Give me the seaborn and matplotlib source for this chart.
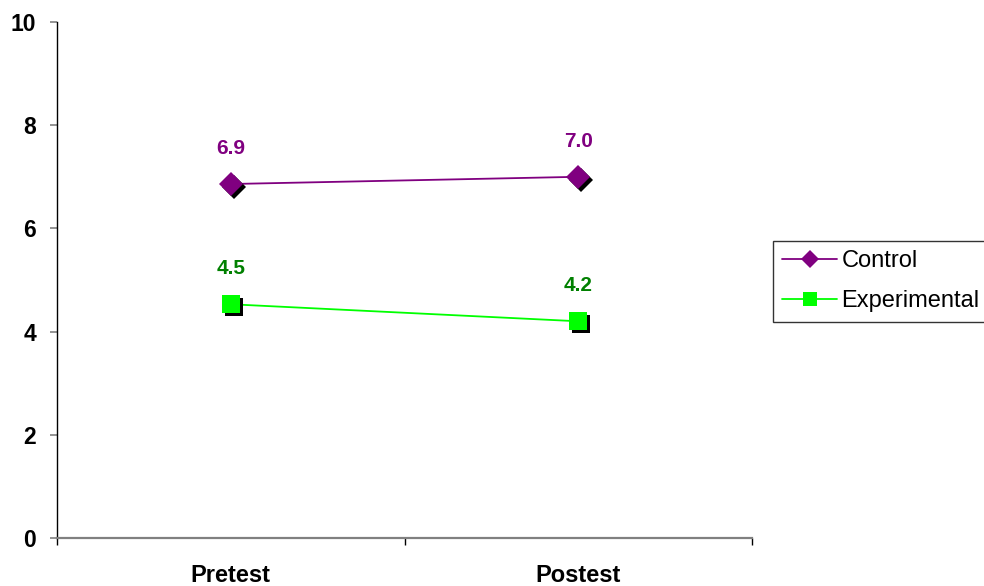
import matplotlib
matplotlib.use("Agg")
import matplotlib.pyplot as plt
import matplotlib.transforms as mtransforms
from matplotlib.lines import Line2D
import seaborn as sns
import pandas as pd

# Mean scores by test phase
phases = ["Pretest", "Postest"]
control = [6.86, 7.0]
experimental = [4.53, 4.2]
series_names = ["Control", "Experimental"]
y_ticks = [0, 2, 4, 6, 8, 10]

line_colors = {"Control": "#800080", "Experimental": "#00FF00"}
label_colors = {"Control": "#800080", "Experimental": "#008000"}
markers = {"Control": "D", "Experimental": "s"}
marker_sizes = {"Control": 12.5, "Experimental": 13.5}

df = pd.DataFrame({
    "phase": phases * 2,
    "x": [0, 1] * 2,
    "score": control + experimental,
    "group": [series_names[0]] * 2 + [series_names[1]] * 2,
})

sns.set_style("white")
plt.rcParams["font.family"] = ["Liberation Sans", "DejaVu Sans"]
plt.rcParams["text.color"] = "black"

fig = plt.figure(figsize=(9.84, 5.86), dpi=100)
ax = fig.add_axes([57 / 984, 1 - 538 / 586, (752 - 57) / 984, (538 - 22) / 586])

# connecting lines
sns.lineplot(data=df, x="x", y="score", hue="group", palette=line_colors,
             linewidth=1.3, legend=False, ax=ax, zorder=2)

# markers with a dark drop shadow
shadow = mtransforms.offset_copy(ax.transData, fig=fig, x=3, y=-3, units="dots")
for name in series_names:
    sub = df[df["group"] == name]
    ax.plot(sub["x"], sub["score"], linestyle="none", marker=markers[name],
            markersize=marker_sizes[name], color="black", markeredgewidth=0,
            transform=shadow, zorder=3)
    ax.plot(sub["x"], sub["score"], linestyle="none", marker=markers[name],
            markersize=marker_sizes[name], color=line_colors[name],
            markeredgewidth=0, zorder=4)
    for xv, yv in zip(sub["x"], sub["score"]):
        ax.annotate(f"{yv:.1f}", (xv, yv), xytext=(0, 25.5), textcoords="offset points",
                    ha="center", va="center", fontsize=15, fontweight="bold",
                    color=label_colors[name])

ax.set_xlim(-0.5, 1.5)
ax.set_ylim(0, 10)
ax.set_yticks(y_ticks)
ax.set_yticklabels([str(t) for t in y_ticks], fontsize=16.5, fontweight="bold",
                   color="black")
ax.set_xticks([0, 1])
ax.set_xticklabels(phases, fontsize=17, fontweight="bold", color="black")
ax.set_xticks([-0.5, 0.5, 1.5], minor=True)
ax.tick_params(axis="x", which="major", bottom=True, length=0, pad=19)
ax.tick_params(axis="x", which="minor", bottom=True, length=5, width=1,
               color="black", direction="out")
ax.tick_params(axis="y", which="major", left=True, length=5, width=1.2,
               color="#808080", direction="out", pad=10)
ax.set_xlabel("")
ax.set_ylabel("")

for side in ["top", "right"]:
    ax.spines[side].set_visible(False)
ax.spines["left"].set_color("black")
ax.spines["left"].set_linewidth(1.0)
ax.spines["bottom"].set_color("#808080")
ax.spines["bottom"].set_linewidth(1.6)

handles = [
    Line2D([], [], color=line_colors[n], marker=markers[n], linewidth=1.3,
           markersize=m, markeredgewidth=0)
    for n, m in zip(series_names, [9.5, 10])
]
leg = fig.legend(handles, series_names, loc="upper left",
                 bbox_to_anchor=(773 / 984, 1 - 241 / 586), frameon=True,
                 fancybox=False, shadow=False, fontsize=17, handlelength=2.3,
                 handletextpad=0.2, borderpad=0.4, labelspacing=0.75,
                 borderaxespad=0)
leg.get_frame().set_edgecolor("black")
leg.get_frame().set_linewidth(1.0)

fig.savefig("out.png", dpi=100)
